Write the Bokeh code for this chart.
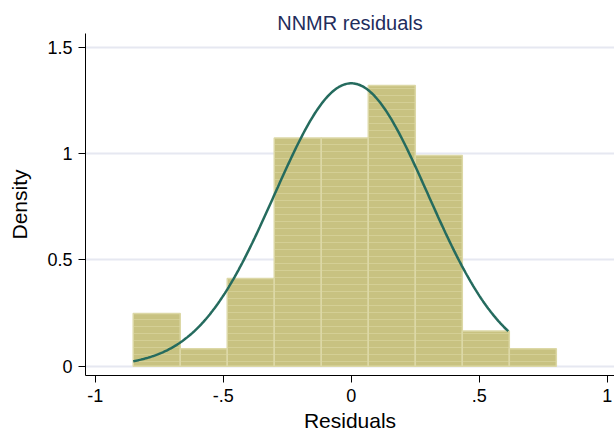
from bokeh.plotting import figure
from bokeh.models import Range1d, FixedTicker, ColumnDataSource
from bokeh.embed import file_html
from bokeh.resources import INLINE
import numpy as np

# ---- data ----
bin_start = -0.8516
bin_width = 0.1836
densities = [0.2475, 0.0825, 0.4125, 1.0726, 1.0726, 1.32, 0.99, 0.165, 0.0825]
fit_mean = 0.0
fit_sd = 0.30
data_min = -0.8516
data_max = 0.613

xtick_vals = [-1, -0.5, 0, 0.5, 1]
xtick_labels = ["-1", "-.5", "0", ".5", "1"]
ytick_vals = [0, 0.5, 1, 1.5]
ytick_labels = ["0", "0.5", "1", "1.5"]

title_text = "NNMR residuals"
x_title = "Residuals"
y_title = "Density"

# ---- build ----
n = len(densities)
lefts = [bin_start + i * bin_width for i in range(n)]
rights = [l + bin_width for l in lefts]
bars = ColumnDataSource(dict(left=lefts, right=rights, top=densities, bottom=[0] * n))

xs = np.linspace(data_min, data_max, 300)
ys = np.exp(-0.5 * ((xs - fit_mean) / fit_sd) ** 2) / (fit_sd * np.sqrt(2 * np.pi))
curve = ColumnDataSource(dict(x=xs, y=ys))

FONT = "Liberation Sans"

p = figure(width=614, height=434, output_backend="svg", toolbar_location=None,
           x_range=Range1d(-1.038, 1.028), y_range=Range1d(-0.0436, 1.564),
           min_border_left=85, min_border_right=0, min_border_top=33, min_border_bottom=58,
           title=title_text)
p.outline_line_color = None
p.background_fill_color = "white"
p.border_fill_color = "white"

p.title.align = "center"
p.title.text_font = FONT
p.title.text_font_size = "20px"
p.title.text_font_style = "normal"
p.title.text_color = "#1f2d5c"
p.title.standoff = 0

p.quad(left="left", right="right", top="top", bottom="bottom", source=bars,
       fill_color="#c8c281", line_color="#dcd8a6", line_width=1.5,
       hatch_pattern="horizontal_line", hatch_color="#d8d49e", hatch_scale=7,
       hatch_weight=1, hatch_alpha=0.7)

p.line("x", "y", source=curve, line_color="#256b5e", line_width=2.5)

# grid
p.xgrid.grid_line_color = None
p.ygrid.grid_line_color = "#e6e8f1"
p.ygrid.grid_line_width = 2
p.ygrid.ticker = FixedTicker(ticks=ytick_vals)

# axes
for ax in (p.xaxis[0], p.yaxis[0]):
    ax.axis_line_color = "black"
    ax.axis_line_width = 1
    ax.major_tick_line_color = "black"
    ax.major_tick_out = 7
    ax.major_tick_in = 0
    ax.minor_tick_line_color = None
    ax.major_label_text_font = FONT
    ax.major_label_text_font_size = "18px"
    ax.major_label_text_color = "black"
    ax.axis_label_text_font = FONT
    ax.axis_label_text_font_size = "21px"
    ax.axis_label_text_font_style = "normal"
    ax.axis_label_text_color = "black"

p.xaxis.ticker = FixedTicker(ticks=xtick_vals)
p.xaxis.major_label_overrides = {v: s for v, s in zip(xtick_vals, xtick_labels)}
p.xaxis.axis_label = x_title
p.xaxis.major_label_standoff = 6
p.xaxis.axis_label_standoff = 4

p.yaxis.ticker = FixedTicker(ticks=ytick_vals)
p.yaxis.major_label_overrides = {v: s for v, s in zip(ytick_vals, ytick_labels)}
p.yaxis.axis_label = y_title
p.yaxis.major_label_standoff = 6
p.yaxis.axis_label_standoff = 13
p.yaxis.major_label_orientation = "horizontal"

open("out.html", "w").write(file_html(p, INLINE))
